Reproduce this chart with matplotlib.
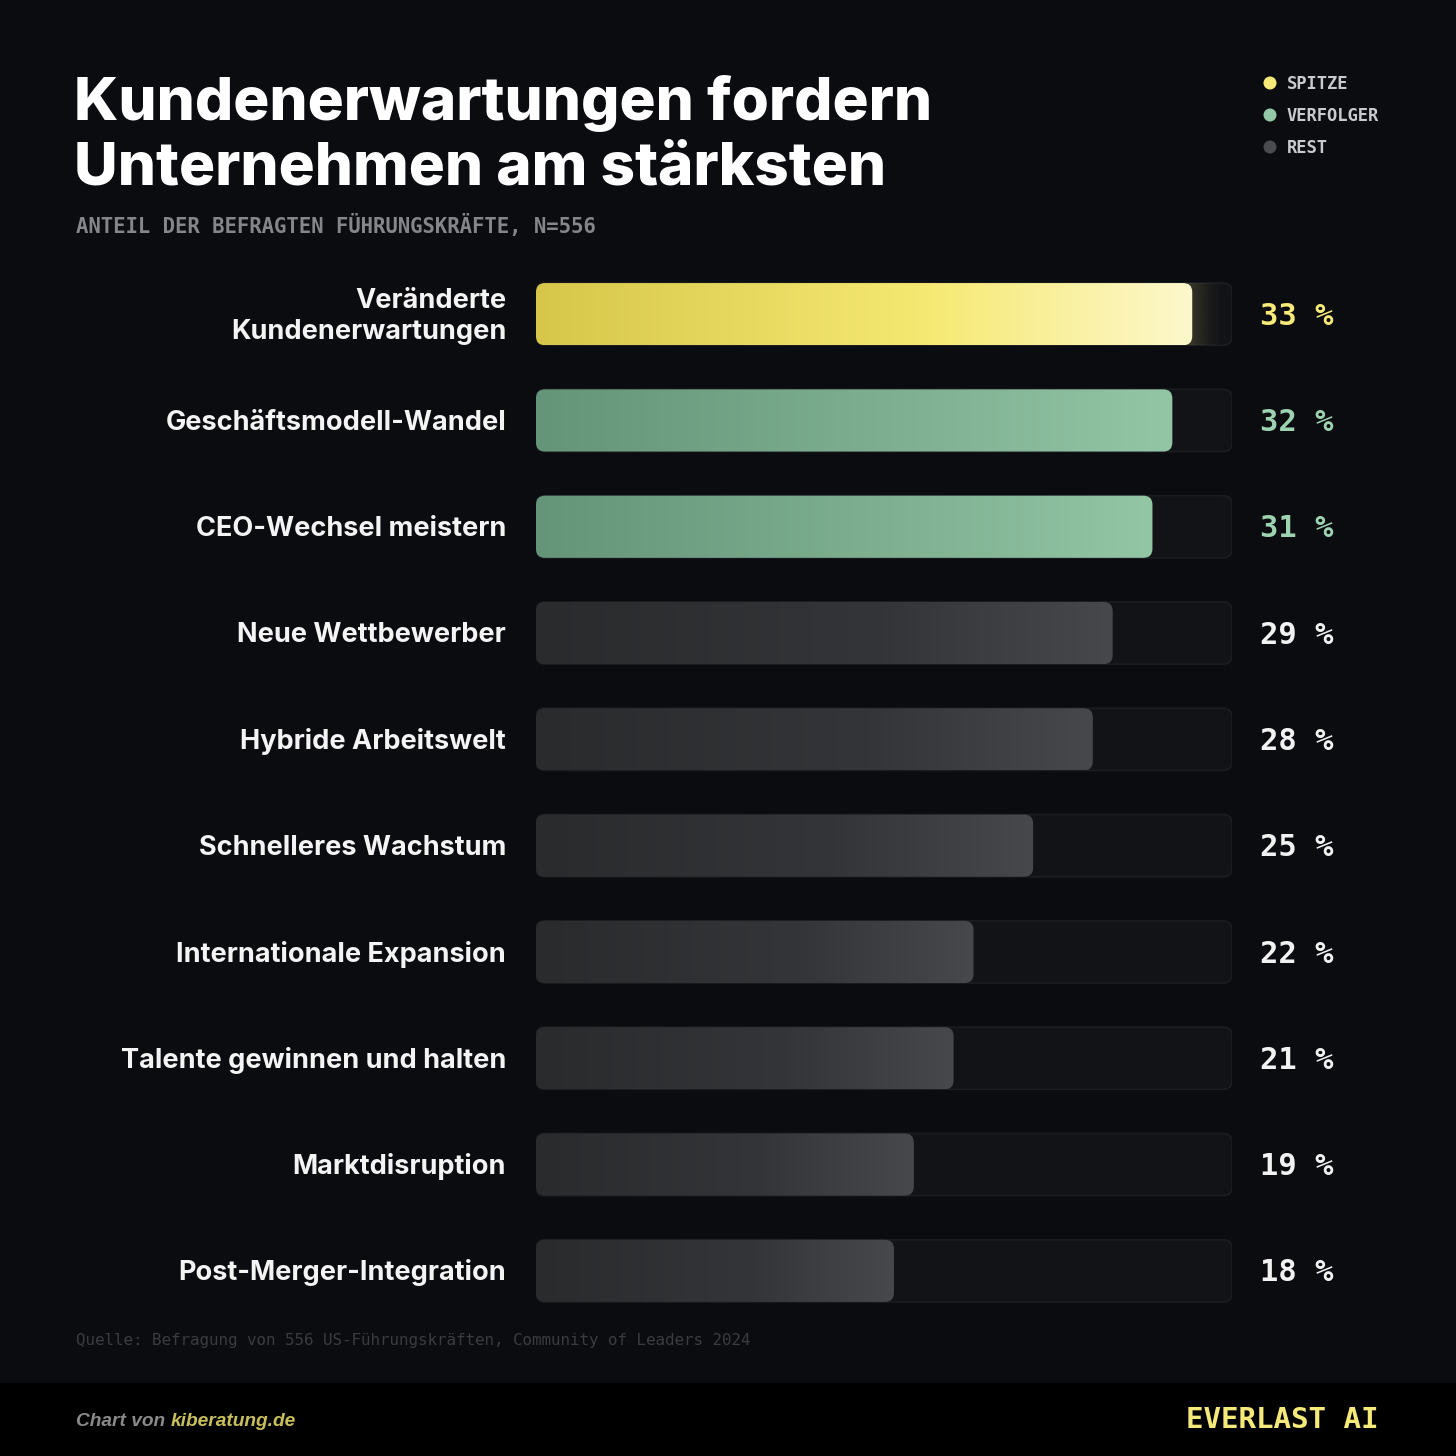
import numpy as np
import matplotlib
matplotlib.use("Agg")
import matplotlib.pyplot as plt
from matplotlib.patches import FancyBboxPatch, Rectangle
from matplotlib.colors import to_rgb

# data
categories = ["Veränderte\nKundenerwartungen", "Geschäftsmodell-Wandel", "CEO-Wechsel meistern",
              "Neue Wettbewerber", "Hybride Arbeitswelt", "Schnelleres Wachstum",
              "Internationale Expansion", "Talente gewinnen und halten", "Marktdisruption",
              "Post-Merger-Integration"]
values = [33, 32, 31, 29, 28, 25, 22, 21, 19, 18]
groups = ["SPITZE", "VERFOLGER", "VERFOLGER", "REST", "REST", "REST", "REST", "REST", "REST", "REST"]
legend_labels = ["SPITZE", "VERFOLGER", "REST"]
track_max = 35

BG = "#0b0c10"
grad_colors = {
    "SPITZE": ["#d6c74a", "#f6e973", "#fdf8cc"],
    "VERFOLGER": ["#659579", "#7fb192", "#93c6a5"],
    "REST": ["#2a2b2d", "#343538", "#47484b"],
}
value_colors = {"SPITZE": "#f7ea78", "VERFOLGER": "#9dd3b1", "REST": "#f2f2f2"}
dot_colors = {"SPITZE": "#f7ea78", "VERFOLGER": "#93c9a6", "REST": "#4a4b4f"}

W = H = 1456
fig = plt.figure(figsize=(W / 100, H / 100), dpi=100, facecolor=BG)


def fx(x):
    return x / W


def fy(y):
    return 1 - y / H


SANS = ["Inter", "DejaVu Sans"]
MONO = ["DejaVu Sans Mono"]

# footer band
fig.patches.append(Rectangle((0, 0), 1, fy(1383), transform=fig.transFigure,
                             facecolor="#000000", edgecolor="none", zorder=0))

# title + subtitle
fig.text(fx(74), fy(136), "Kundenerwartungen fordern\nUnternehmen am stärksten",
         family=SANS, weight="heavy", fontsize=43.3, color="white",
         va="center", ha="left", linespacing=1.21)
fig.text(fx(76), fy(226), "ANTEIL DER BEFRAGTEN FÜHRUNGSKRÄFTE, N=556",
         family=MONO, weight="bold", fontsize=14.9, color="#85868a", va="center")

# legend
for k, lab in enumerate(legend_labels):
    yy = 83 + 32 * k
    fig.patches.append(plt.Circle((fx(1270), fy(yy)), 6.5 / W, transform=fig.transFigure,
                                  facecolor=dot_colors[lab], edgecolor="none"))
    fig.text(fx(1287), fy(yy + 1), lab, family=MONO, weight="bold", fontsize=12.3,
             color="#c9cacd", va="center", ha="left")

# bar axes
ax = fig.add_axes([fx(536), fy(1324), fx(1232) - fx(536), (1324 - 261) / H])
ax.set_facecolor("none")
ax.set_xlim(0, track_max)
ax.set_ylim(len(values) - 0.5, -0.5)
ax.axis("off")

h = 0.585
px_x = (1232 - 536) / track_max
px_y = (1324 - 261) / len(values)
aspect = px_x / px_y
r = 9 / px_x

for i, (cat, v, g) in enumerate(zip(categories, values, groups)):
    track = FancyBboxPatch((0, i - h / 2), track_max, h,
                           boxstyle=f"round,pad=0,rounding_size={r}", mutation_aspect=aspect,
                           facecolor="#121316", edgecolor="#1c1d21", lw=1.2, zorder=1)
    ax.add_patch(track)
    if g == "SPITZE":
        # soft glow at the end of the top bar
        glow = np.zeros((1, 256, 4))
        glow[..., :3] = to_rgb("#e9dc7a")
        glow[..., 3] = np.linspace(0.35, 0, 256) ** 1.5
        im = ax.imshow(glow, extent=[v - 0.3, v + 1.6, i + h / 2, i - h / 2],
                       aspect="auto", zorder=1.5, interpolation="bilinear")
        im.set_clip_path(track)
    bar = FancyBboxPatch((0, i - h / 2), v, h,
                         boxstyle=f"round,pad=0,rounding_size={r}", mutation_aspect=aspect,
                         facecolor="none", edgecolor="none", zorder=2)
    ax.add_patch(bar)
    cols = np.array([to_rgb(c) for c in grad_colors[g]])
    t = np.linspace(0, 1, 256)
    grad = np.empty((1, 256, 3))
    for c in range(3):
        grad[0, :, c] = np.interp(t, [0, 0.6, 1], cols[:, c])
    im = ax.imshow(grad, extent=[0, v, i + h / 2, i - h / 2], aspect="auto",
                   zorder=2, interpolation="bilinear")
    im.set_clip_path(bar)

    ax.text(-1.5, i + 0.02, cat, family=SANS, weight="bold", fontsize=19.5, color="#f4f4f4",
            ha="right", va="center", linespacing=1.25)
    ax.text(track_max + 1.4, i + 0.02, f"{v} %", family=MONO, weight="bold", fontsize=22,
            color=value_colors[g], ha="left", va="center")

ax.set_xlim(0, track_max)
ax.set_ylim(len(values) - 0.5, -0.5)

# source + footer
fig.text(fx(76), fy(1340), "Quelle: Befragung von 556 US-Führungskräften, Community of Leaders 2024",
         family=MONO, fontsize=11.4, color="#3b3c41", va="center")
t1 = fig.text(fx(76), fy(1421), "Chart von ", family=["Liberation Sans"], style="italic",
              weight="bold", fontsize=13.8, color="#8a8a8a", va="center")
fig.canvas.draw()
bb = t1.get_window_extent()
fig.text(bb.x1 / W, fy(1421), "kiberatung.de", family=["Liberation Sans"], style="italic",
         weight="bold", fontsize=13.8, color="#c8be5a", va="center")
fig.text(fx(1378), fy(1420), "EVERLAST AI", family=MONO, weight="bold", fontsize=21,
         color="#f5e97a", va="center", ha="right")

fig.savefig("out.png", dpi=100, facecolor=BG)
